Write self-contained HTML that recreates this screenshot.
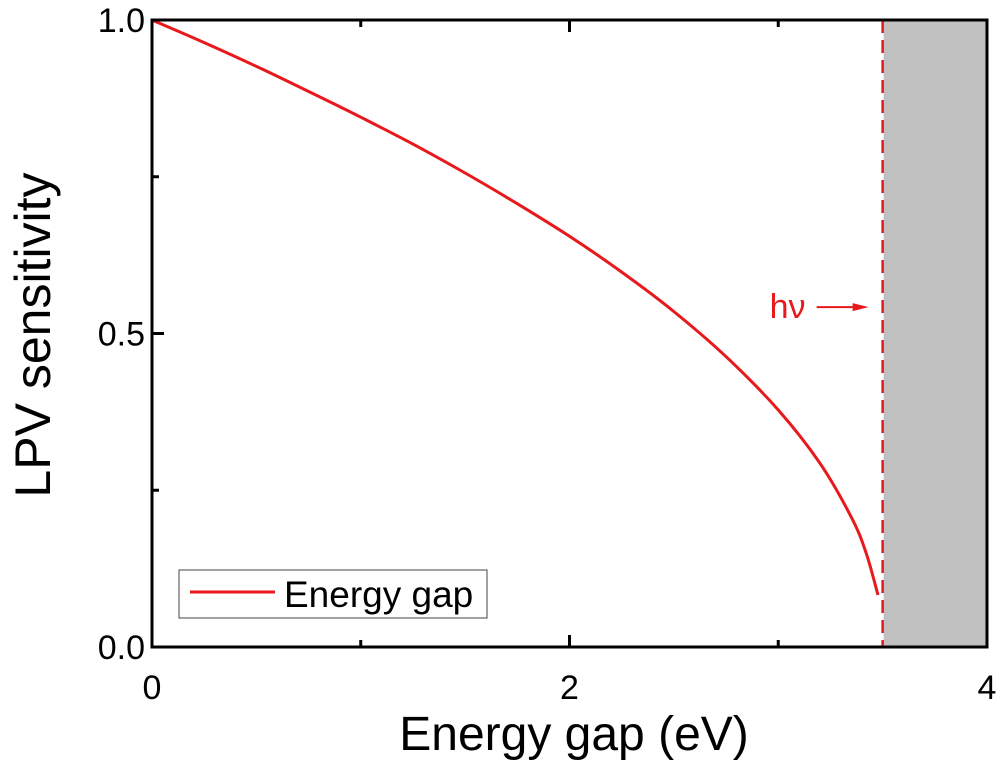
<!DOCTYPE html>
<html><head><meta charset="utf-8"><style>
html,body{margin:0;padding:0;background:#fff;}
svg{display:block;font-family:"Liberation Sans",Arial,sans-serif;}
</style></head><body>
<svg id="chart" width="1000" height="761" viewBox="0 0 1000 761"></svg>
<script>
const energies=[0,0.25,0.5,0.75,1,1.25,1.5,1.75,2,2.25,2.5,2.75,3,3.2,3.35,3.42,3.478];
const sensitivity=[1.0,0.964,0.926,0.886,0.845,0.802,0.756,0.707,0.655,0.598,0.535,0.463,0.378,0.293,0.207,0.151,0.083];
const xTicks=[0,2,4];
const xMinor=[1,3];
const yTicks=[0.0,0.5,1.0];
const yTickLabels=["0.0","0.5","1.0"];
const yMinor=[0.25,0.75];
const photonEnergy=3.5;
const xMax=4;
const hvLevel=0.542;

const L=152,R=987,T=20,B=647;
const sx=v=>L+(v/xMax)*(R-L);
const sy=v=>B-v*(B-T);
const NS="http://www.w3.org/2000/svg";
const svg=document.getElementById('chart');
function mk(tag,attrs,parent){const e=document.createElementNS(NS,tag);for(const k in attrs)e.setAttribute(k,attrs[k]);(parent||svg).appendChild(e);return e;}

const shade=mk('rect',{x:sx(photonEnergy)+1,y:T,width:sx(xMax)-sx(photonEnergy)-1,height:B-T,fill:'#c0c0c0'});



const vline=mk('line',{x1:sx(photonEnergy),x2:sx(photonEnergy),y1:T,y2:B,stroke:'#e8191c','stroke-width':2.5,'stroke-dasharray':'13,7'});



const pts=energies.map((e,i)=>[sx(e),sy(sensitivity[i])]);
let d='M'+pts[0][0].toFixed(1)+','+pts[0][1].toFixed(1);
for(let i=0;i<pts.length-1;i++){
  const p0=pts[Math.max(0,i-1)],p1=pts[i],p2=pts[i+1],p3=pts[Math.min(pts.length-1,i+2)];
  const c1=[p1[0]+(p2[0]-p0[0])/6,p1[1]+(p2[1]-p0[1])/6];
  const c2=[p2[0]-(p3[0]-p1[0])/6,p2[1]-(p3[1]-p1[1])/6];
  d+=`C${c1[0].toFixed(1)},${c1[1].toFixed(1)} ${c2[0].toFixed(1)},${c2[1].toFixed(1)} ${p2[0].toFixed(1)},${p2[1].toFixed(1)}`;
}
const curve=mk('path',{d:d,fill:'none',stroke:'#e8191c','stroke-width':3,'stroke-linejoin':'round'});



const frame=mk('rect',{x:L,y:T,width:R-L,height:B-T,fill:'none',stroke:'#000','stroke-width':3});



xTicks.forEach(v=>{
  mk('line',{x1:sx(v),x2:sx(v),y1:B,y2:B-12,stroke:'#000','stroke-width':3});
  mk('line',{x1:sx(v),x2:sx(v),y1:T,y2:T+12,stroke:'#000','stroke-width':3});
  const t=mk('text',{x:sx(v),y:B+52,'font-size':34,'text-anchor':'middle',fill:'#000'});
  t.textContent=v;
  
  
});
xMinor.forEach(v=>{
  mk('line',{x1:sx(v),x2:sx(v),y1:B,y2:B-7,stroke:'#000','stroke-width':3});
  mk('line',{x1:sx(v),x2:sx(v),y1:T,y2:T+7,stroke:'#000','stroke-width':3});
});
yTicks.forEach((v,i)=>{
  mk('line',{x1:L,x2:L+12,y1:sy(v),y2:sy(v),stroke:'#000','stroke-width':3});
  const t=mk('text',{x:L-7,y:sy(v)+12,'font-size':34,'text-anchor':'end',fill:'#000'});
  t.textContent=yTickLabels[i];
  
  
});
yMinor.forEach(v=>{mk('line',{x1:L,x2:L+7,y1:sy(v),y2:sy(v),stroke:'#000','stroke-width':3});});

const xt=mk('text',{x:574,y:750,'font-size':48,'text-anchor':'middle',fill:'#000'});
xt.textContent='Energy gap (eV)';


const yt=mk('text',{x:0,y:0,'font-size':50,'text-anchor':'middle',fill:'#000',transform:'translate(50,335) rotate(-90)'});
yt.textContent='LPV sensitivity';



const hv=mk('text',{x:sx(photonEnergy)-113,y:sy(hvLevel)+11,'font-size':34,fill:'#e8191c'});
hv.textContent='hν';


const arr=mk('line',{x1:sx(photonEnergy)-66,x2:sx(photonEnergy)-25,y1:sy(hvLevel),y2:sy(hvLevel),stroke:'#e8191c','stroke-width':2});


const ah=mk('polygon',{points:`${sx(photonEnergy)-14},${sy(hvLevel)} ${sx(photonEnergy)-30},${sy(hvLevel)-4} ${sx(photonEnergy)-30},${sy(hvLevel)+4}`,fill:'#e8191c'});



const lg=mk('g',{});


mk('rect',{x:179,y:570,width:308,height:48,fill:'#fff',stroke:'#444','stroke-width':1},lg);
mk('line',{x1:190,x2:275,y1:592,y2:592,stroke:'#e8191c','stroke-width':3},lg);
const lt=mk('text',{x:284,y:607,'font-size':37,fill:'#000'},lg);
lt.textContent='Energy gap';


</script>
</body></html>
